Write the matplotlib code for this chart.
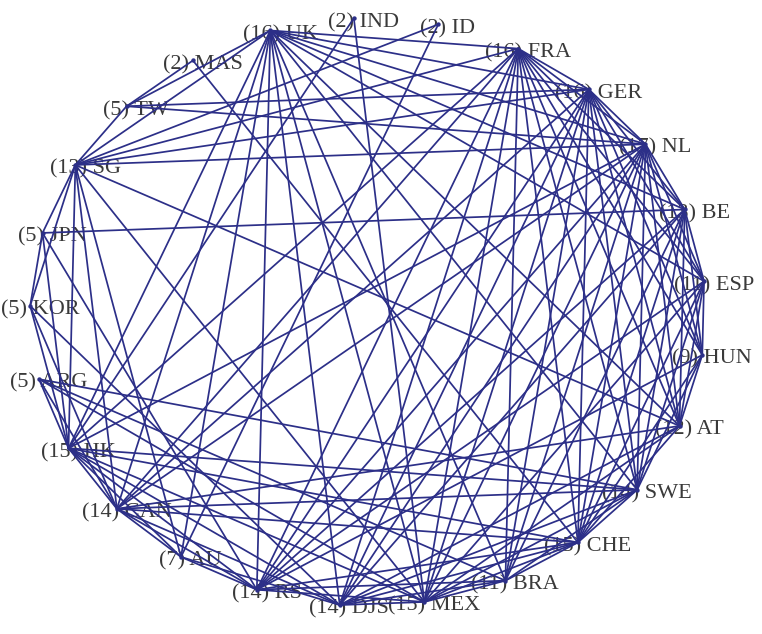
import numpy as np
import matplotlib
matplotlib.use("Agg")
import matplotlib.pyplot as plt

# Countries, in clockwise order around the ring (starting at the right, ESP)
countries = ["ESP", "HUN", "AT", "SWE", "CHE", "BRA", "MEX", "DJS", "RS", "AU",
             "CAN", "HK", "ARG", "KOR", "JPN", "SG", "TW", "MAS", "UK", "IND",
             "ID", "FRA", "GER", "NL", "BE"]

# Undirected links between countries
links = [
    ("ID", "SG"), ("ID", "AU"),
    ("MAS", "CHE"), ("MAS", "TW"),
    ("IND", "HK"), ("IND", "MEX"),
    ("TW", "SG"), ("TW", "UK"), ("TW", "GER"), ("TW", "NL"),
    ("JPN", "SG"), ("JPN", "KOR"), ("JPN", "HK"), ("JPN", "RS"), ("JPN", "BE"),
    ("KOR", "SG"), ("KOR", "HK"), ("KOR", "CAN"), ("KOR", "DJS"),
    ("ARG", "HK"), ("ARG", "CAN"), ("ARG", "BRA"), ("ARG", "MEX"), ("ARG", "SWE"),
    ("AU", "CAN"), ("AU", "HK"), ("AU", "RS"), ("AU", "UK"), ("AU", "SG"), ("AU", "DJS"),
    ("SG", "HK"), ("SG", "CAN"), ("SG", "UK"), ("SG", "NL"), ("SG", "AT"),
    ("SG", "FRA"), ("SG", "GER"), ("SG", "MEX"),
    ("HK", "CAN"), ("HK", "RS"), ("HK", "DJS"), ("HK", "MEX"), ("HK", "CHE"),
    ("HK", "SWE"), ("HK", "UK"), ("HK", "FRA"), ("HK", "NL"),
    ("CAN", "RS"), ("CAN", "DJS"), ("CAN", "CHE"), ("CAN", "SWE"), ("CAN", "AT"),
    ("CAN", "UK"), ("CAN", "GER"), ("CAN", "FRA"), ("CAN", "NL"),
    ("RS", "MEX"), ("RS", "BRA"), ("RS", "CHE"), ("RS", "UK"), ("RS", "FRA"),
    ("RS", "NL"), ("RS", "ESP"), ("RS", "HUN"), ("RS", "GER"), ("RS", "BE"),
    ("DJS", "MEX"), ("DJS", "BRA"), ("DJS", "CHE"), ("DJS", "SWE"), ("DJS", "AT"),
    ("DJS", "FRA"), ("DJS", "GER"), ("DJS", "NL"), ("DJS", "BE"), ("DJS", "UK"),
    ("MEX", "BRA"), ("MEX", "CHE"), ("MEX", "SWE"), ("MEX", "AT"), ("MEX", "UK"),
    ("MEX", "GER"), ("MEX", "NL"), ("MEX", "ESP"), ("MEX", "FRA"),
    ("BRA", "CHE"), ("BRA", "SWE"), ("BRA", "FRA"), ("BRA", "UK"), ("BRA", "NL"),
    ("BRA", "GER"), ("BRA", "BE"),
    ("CHE", "SWE"), ("CHE", "AT"), ("CHE", "HUN"), ("CHE", "ESP"), ("CHE", "BE"),
    ("CHE", "NL"), ("CHE", "GER"), ("CHE", "FRA"),
    ("SWE", "HUN"), ("SWE", "ESP"), ("SWE", "BE"), ("SWE", "NL"), ("SWE", "GER"),
    ("SWE", "UK"), ("SWE", "FRA"),
    ("AT", "HUN"), ("AT", "ESP"), ("AT", "BE"), ("AT", "NL"), ("AT", "GER"),
    ("AT", "FRA"), ("AT", "UK"),
    ("HUN", "ESP"), ("HUN", "BE"), ("HUN", "NL"), ("HUN", "GER"), ("HUN", "FRA"),
    ("ESP", "BE"), ("ESP", "NL"), ("ESP", "GER"), ("ESP", "FRA"), ("ESP", "UK"),
    ("BE", "NL"), ("BE", "GER"), ("BE", "FRA"), ("BE", "UK"),
    ("NL", "GER"), ("NL", "FRA"), ("NL", "UK"),
    ("GER", "FRA"), ("GER", "UK"),
    ("FRA", "UK"),
]

edge_color = "#2c2f88"
text_color = "#3a3a3a"

# Circular layout: evenly spaced, clockwise
n = len(countries)
start_deg = 6.0
angles = np.deg2rad(start_deg - 360.0 / n * np.arange(n))
pos = {c: (np.cos(a), np.sin(a)) for c, a in zip(countries, angles)}

degree = {c: 0 for c in countries}
for a, b in links:
    degree[a] += 1
    degree[b] += 1

fig = plt.figure(figsize=(7.62, 6.34), dpi=100)
ax = fig.add_axes([0, 0, 1, 1])
ax.set_xlim(-1.089, 1.166)
ax.set_ylim(-1.095, 1.061)
ax.axis("off")

# Labels sit underneath the links
for c in countries:
    x, y = pos[c]
    ax.annotate(f"({degree[c]}) {c}", (x, y), xytext=(7, -3),
                textcoords="offset points", ha="center", va="center",
                fontsize=16, family="Liberation Serif", color=text_color,
                zorder=1)

for a, b in links:
    (x0, y0), (x1, y1) = pos[a], pos[b]
    ax.plot([x0, x1], [y0, y1], color=edge_color, lw=1.25, zorder=2,
            solid_capstyle="round")

xs = [pos[c][0] for c in countries]
ys = [pos[c][1] for c in countries]
ax.scatter(xs, ys, s=10, color=edge_color, zorder=3, linewidths=0)

fig.savefig("out.png", dpi=100)
